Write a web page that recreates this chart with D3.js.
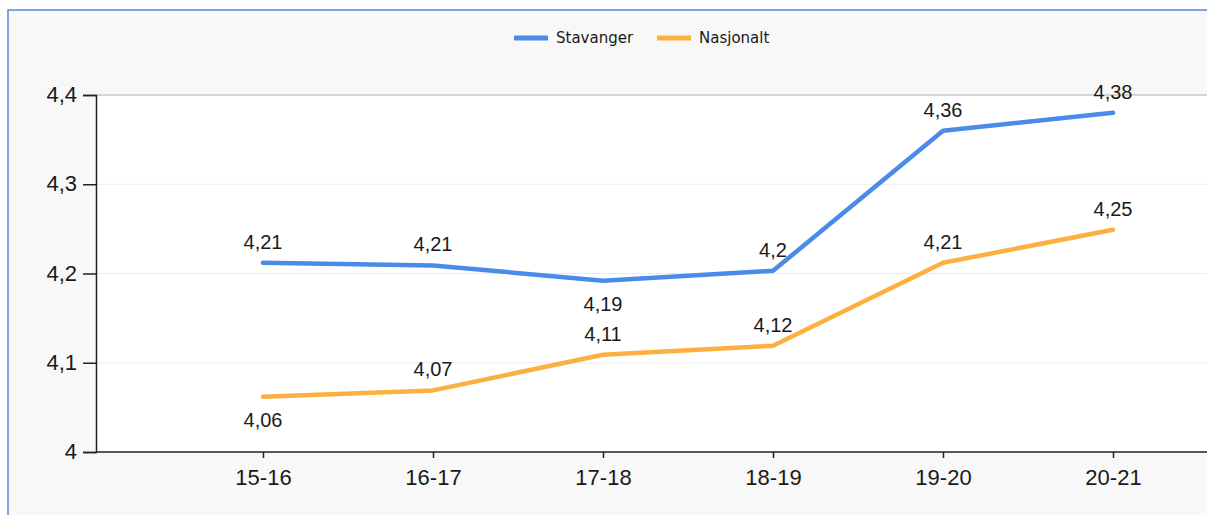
<!DOCTYPE html>
<html><head><meta charset="utf-8">
<script src="https://cdn.jsdelivr.net/npm/d3@7"></script>
<style>html,body{margin:0;padding:0;background:#fff;}svg{display:block;}</style>
</head><body>
<script>
const categories = ["15-16","16-17","17-18","18-19","19-20","20-21"];
const stavanger = [4.212, 4.209, 4.192, 4.203, 4.36, 4.38];
const nasjonalt = [4.062, 4.069, 4.109, 4.119, 4.212, 4.249];
const stavangerLabelPos = ["above","above","below","above","above","above"];
const nasjonaltLabelPos = ["below","above","above","above","above","above"];
const yTicks = [4, 4.1, 4.2, 4.3, 4.4];

(function () {
const W = 1207, H = 515;
const svg = d3.select("body").append("svg").attr("width", W).attr("height", H);
svg.append("rect").attr("width", W).attr("height", H).attr("fill", "#fff");
svg.append("rect").attr("x", 8).attr("y", 10).attr("width", W).attr("height", H).attr("fill", "#f8f8f8")
  .attr("stroke", "#5b86d8").attr("stroke-width", 1.5);

const pLeft = 96, pRight = 1207, pTop = 95, pBottom = 452;
const x = d3.scalePoint().domain(categories).range([263, 1113]);
const y = d3.scaleLinear().domain([4, 4.4]).range([pBottom, pTop]);

svg.append("rect").attr("x", pLeft).attr("y", pTop).attr("width", pRight - pLeft).attr("height", pBottom - pTop).attr("fill", "#fff");

// gridlines
svg.append("g").selectAll("line").data(yTicks.filter(d => d > 4)).join("line")
  .attr("x1", pLeft).attr("x2", pRight).attr("y1", d => y(d)).attr("y2", d => y(d))
  .attr("stroke", d => d === 4.4 ? "#c8c8c8" : "#ececec").attr("stroke-width", d => d === 4.4 ? 1.5 : 1);

const fmt = v => d3.format(".2~f")(v).replace(".", ",");
const font = "Liberation Sans, Arial, sans-serif";

// y axis
const yAxis = d3.axisLeft(y).tickValues(yTicks).tickSize(13).tickPadding(6).tickFormat(fmt);
const gy = svg.append("g").attr("transform", `translate(${pLeft},0)`).call(yAxis);
gy.select(".domain").attr("stroke", "#222").attr("stroke-width", 1.5);
gy.selectAll(".tick line").attr("stroke", "#222").attr("stroke-width", 1.5);
gy.selectAll("text").attr("font-family", font).attr("font-size", 22).attr("fill", "#1a1a1a").attr("dy", "0.3em");

// x axis
const xAxis = d3.axisBottom(x).tickSize(6).tickPadding(11);
const gx = svg.append("g").attr("transform", `translate(0,${pBottom})`).call(xAxis);
gx.select(".domain").attr("d", `M${pLeft},0H${pRight}`).attr("stroke", "#222").attr("stroke-width", 1.5);
gx.selectAll(".tick line").attr("stroke", "#222").attr("stroke-width", 1.5);
gx.selectAll("text").attr("font-family", font).attr("font-size", 22).attr("fill", "#1a1a1a");

const series = [
  {name: "Stavanger", values: stavanger, color: "#4a8ae8", pos: stavangerLabelPos},
  {name: "Nasjonalt", values: nasjonalt, color: "#fbb040", pos: nasjonaltLabelPos}
];

const line = d3.line().x((d, i) => x(categories[i])).y(d => y(d));
series.forEach(s => {
  svg.append("path").datum(s.values).attr("d", line).attr("fill", "none")
    .attr("stroke", s.color).attr("stroke-width", 4.5).attr("stroke-linejoin", "round").attr("stroke-linecap", "round");
});
series.forEach(s => {
  svg.append("g").selectAll("text").data(s.values).join("text")
    .attr("x", (d, i) => x(categories[i]))
    .attr("y", (d, i) => y(d) + (s.pos[i] === "above" ? -14 : 30))
    .attr("text-anchor", "middle")
    .attr("font-family", font).attr("font-size", 20).attr("fill", "#1a1a1a")
    .text(d => fmt(d));
});

// legend
const legend = svg.append("g");
const legendItems = [{name: "Stavanger", color: "#4a8ae8", x: 514}, {name: "Nasjonalt", color: "#fbb040", x: 657}];
legendItems.forEach(l => {
  legend.append("line").attr("x1", l.x).attr("x2", l.x + 34).attr("y1", 38).attr("y2", 38)
    .attr("stroke", l.color).attr("stroke-width", 5);
  legend.append("text").attr("x", l.x + 42).attr("y", 43).text(l.name)
    .attr("font-family", "DejaVu Sans, sans-serif").attr("font-size", 15).attr("fill", "#1a1a1a");
});
})();
</script>
</body></html>
